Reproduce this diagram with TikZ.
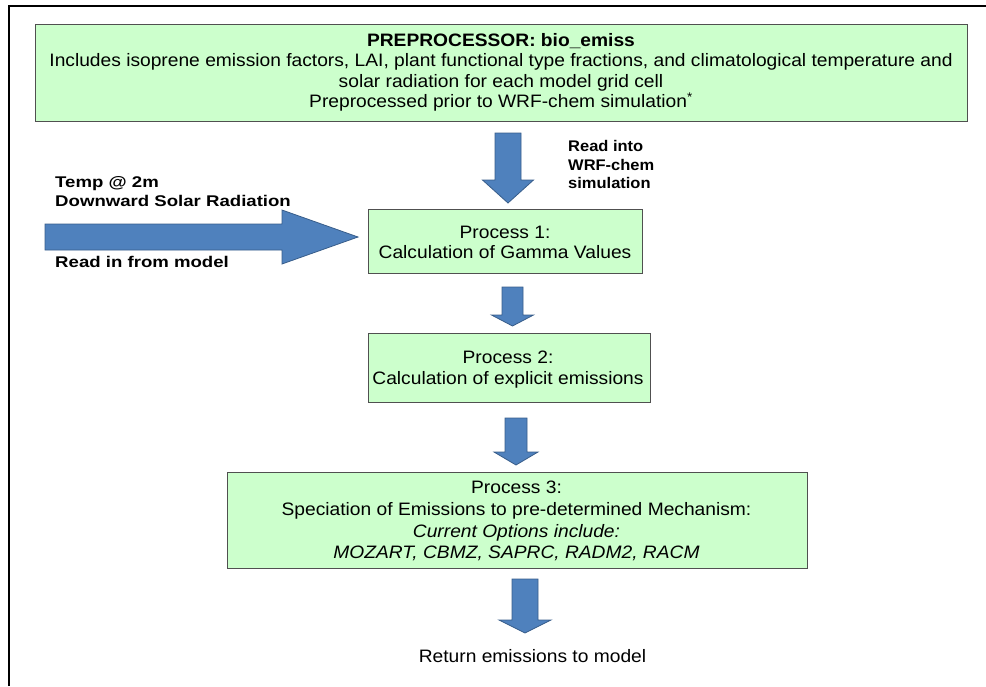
\documentclass[tikz,border=0pt]{standalone}
\usepackage{fontspec}
\setmainfont{Liberation Sans}
\usetikzlibrary{calc}
\definecolor{boxgreen}{HTML}{CCFFCC}
\definecolor{boxline}{HTML}{505050}
\definecolor{arrowblue}{HTML}{4F81BD}
\definecolor{arrowline}{HTML}{385D8A}
\tikzset{
  greenbox/.style={draw=boxline, fill=boxgreen, line width=1pt, inner sep=0pt, anchor=north west},
  blockarrow/.style={fill=arrowblue, draw=arrowline, line width=0.8pt, line join=miter},
  proctext/.style={inner sep=0pt, anchor=base, font=\fontsize{18}{21}\selectfont, xscale=1.067},
  sidetext/.style={inner sep=0pt, anchor=base west, font=\bfseries\fontsize{15.5}{18}\selectfont, xscale=1.2},
  readtext/.style={inner sep=0pt, anchor=base west, font=\bfseries\fontsize{15.4}{18}\selectfont, xscale=1.07},
}
\newcommand{\blkdown}[5]{%
  \draw[blockarrow] let \p1=(#1), \p2=(#2) in
    (\x1-#3,\y1) -- (\x1+#3,\y1) -- (\x1+#3,\y2+#5) -- (\x1+#4,\y2+#5) -- (\x2,\y2)
    -- (\x1-#4,\y2+#5) -- (\x1-#3,\y2+#5) -- cycle;}
\newcommand{\blkright}[5]{%
  \draw[blockarrow] let \p1=(#1), \p2=(#2) in
    (\x1,\y1+#3) -- (\x2-#5,\y1+#3) -- (\x2-#5,\y1+#4) -- (\x2,\y2)
    -- (\x2-#5,\y1-#4) -- (\x2-#5,\y1-#3) -- (\x1,\y1-#3) -- cycle;}
\begin{document}
\begin{tikzpicture}[x=1pt,y=-1pt]
\useasboundingbox (0,0) rectangle (986,686);
% frame
\draw[line width=2pt] (9,686) -- (9,6) -- (986,6);

% boxes
\node[greenbox, minimum width=932pt, minimum height=97pt] (pre) at (35,24) {};
\node[greenbox, minimum width=274pt, minimum height=64pt] (p1) at (368,209) {};
\node[greenbox, minimum width=282pt, minimum height=69pt] (p2) at (368,333) {};
\node[greenbox, minimum width=580pt, minimum height=96pt] (p3) at (227,472) {};

% preprocessor text
\node[proctext] (pre1) at (501,46) {\textbf{PREPROCESSOR: bio\_emiss}};
\node[proctext] (pre2) at (501,66.5) {Includes isoprene emission factors, LAI, plant functional type fractions, and climatological temperature and};
\node[proctext] (pre3) at (501,87) {solar radiation for each model grid cell};
\node[proctext] (pre4) at (501,107.5) {Preprocessed prior to WRF-chem simulation\textsuperscript{*}};

% process texts
\node[proctext] (p1a) at (505,238) {Process 1:};
\node[proctext] (p1b) at (505,258) {Calculation of Gamma Values};
\node[proctext] (p2a) at (508,363) {Process 2:};
\node[proctext] (p2b) at (508,384) {Calculation of explicit emissions};
\node[proctext] (p3a) at (516.5,493.3) {Process 3:};
\node[proctext] (p3b) at (516.5,515) {Speciation of Emissions to pre-determined Mechanism:};
\node[proctext] (p3c) at (516.5,537) {\itshape Current Options include:};
\node[proctext] (p3d) at (516.5,558.5) {\itshape MOZART, CBMZ, SAPRC, RADM2, RACM};
\node[proctext] (ret) at (532.5,662) {Return emissions to model};

% side labels
\node[sidetext] (temp) at (55,187.3) {Temp @ 2m};
\node[sidetext] (dsr) at (55,206.7) {Downward Solar Radiation};
\node[sidetext] (rim) at (55,267.3) {Read in from model};
\node[readtext] (ri1) at (568,151.7) {Read into};
\node[readtext] (ri2) at (568,170) {WRF-chem};
\node[readtext] (ri3) at (568,188.5) {simulation};

% arrow endpoints
\coordinate (a1s) at (508,133);  \coordinate (a1t) at (508,203);
\coordinate (a2s) at (512.5,287); \coordinate (a2t) at (512.5,326);
\coordinate (a3s) at (516,418);  \coordinate (a3t) at (516,465);
\coordinate (a4s) at (525,579);  \coordinate (a4t) at (525,633);
\coordinate (a0s) at (45,237);   \coordinate (a0t) at (358,237);

\blkdown{a1s}{a1t}{13pt}{25.5pt}{23pt}
\blkdown{a2s}{a2t}{10.5pt}{21pt}{11pt}
\blkdown{a3s}{a3t}{11pt}{22pt}{13pt}
\blkdown{a4s}{a4t}{13pt}{26pt}{13pt}
\blkright{a0s}{a0t}{13pt}{27pt}{76pt}
\end{tikzpicture}
\end{document}
